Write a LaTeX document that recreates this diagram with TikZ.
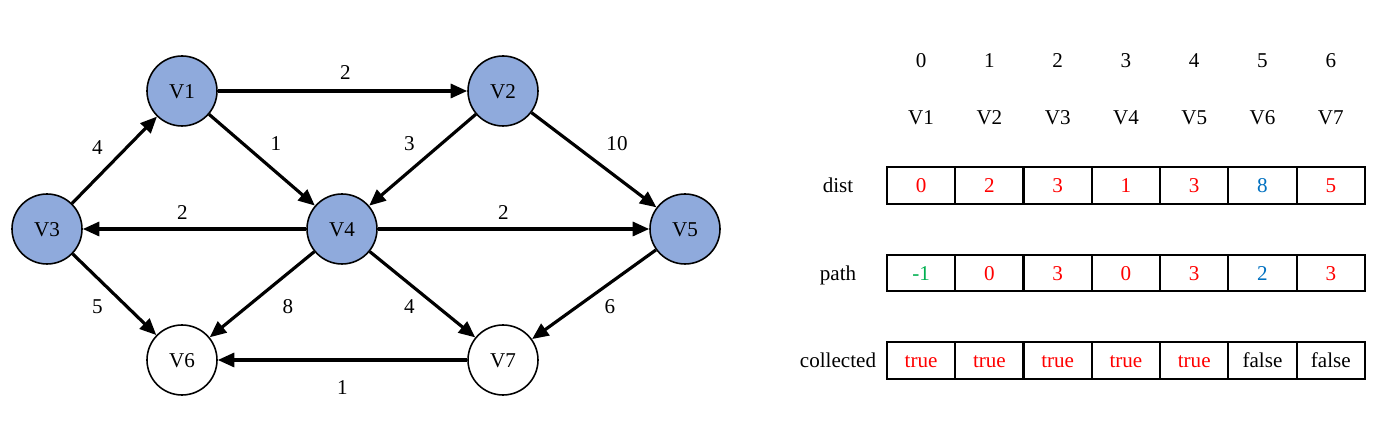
\documentclass[tikz,border=0pt]{standalone}
\usepackage{fontspec}
\setmainfont{Liberation Serif}
\usepackage{xcolor}
\usepackage{tikz}
\usetikzlibrary{arrows.meta}
\definecolor{vfill}{RGB}{143,170,220}
\definecolor{pgreen}{RGB}{0,176,80}
\definecolor{pblue}{RGB}{0,112,192}

\begin{document}
\begin{tikzpicture}[x=0.2mm, y=-0.2mm, font=\fontsize{12}{14}\selectfont,
    vtx/.style={circle, draw, line width=0.9pt, minimum size=14mm, inner sep=0pt, text height=8pt, text depth=0pt},
    seen/.style={vtx, fill=vfill},
    edge/.style={line width=1.8pt, -{Triangle[length=3.3mm, width=2.8mm]}},
    lbl/.style={inner sep=0pt, text height=8pt, text depth=0pt},
    cell/.style={draw, line width=1.2pt, minimum width=13.66mm, minimum height=7.3mm, inner sep=0pt, text height=8pt, text depth=0pt}]
      \useasboundingbox (0,0) rectangle (1383,427);
      % graph
      \node[seen] (v1) at (182,91) {V1};
      \node[seen] (v2) at (503,91) {V2};
      \node[seen] (v3) at (47,229) {V3};
      \node[seen] (v4) at (342,229) {V4};
      \node[seen] (v5) at (685,229) {V5};
      \node[vtx] (v6) at (182,360) {V6};
      \node[vtx] (v7) at (503,360) {V7};
      \draw[edge] (v1) -- node[lbl, shift={(3,-19)}] {2} (v2);
      \draw[edge] (v1) -- node[lbl, shift={(14,-17)}] {1} (v4);
      \draw[edge] (v2) -- node[lbl, shift={(-13,-17)}] {3} (v4);
      \draw[edge] (v2) -- node[lbl, shift={(23,-17)}] {10} (v5);
      \draw[edge] (v3) -- node[lbl, shift={(-17,-13)}] {4} (v1);
      \draw[edge] (v4) -- node[lbl, shift={(-12,-17)}] {2} (v3);
      \draw[edge] (v4) -- node[lbl, shift={(-10,-17)}] {2} (v5);
      \draw[edge] (v3) -- node[lbl, shift={(-17,12)}] {5} (v6);
      \draw[edge] (v4) -- node[lbl, shift={(26,12)}] {8} (v6);
      \draw[edge] (v4) -- node[lbl, shift={(-13,12)}] {4} (v7);
      \draw[edge] (v5) -- node[lbl, shift={(16,12)}] {6} (v7);
      \draw[edge] (v7) -- node[lbl, shift={(0,27)}] {1} (v6);
      % table
      \node[lbl] (dist) at (838,185.5) {dist};
      \node[lbl] (path) at (838,273) {path};
      \node[lbl] (coll) at (838,360.5) {collected};
      \foreach \i/\n/\d/\dc/\p/\pc/\c/\cc in {0/V1/0/red/-1/pgreen/true/red, 1/V2/2/red/0/red/true/red,
          2/V3/3/red/3/red/true/red, 3/V4/1/red/0/red/true/red, 4/V5/3/red/3/red/true/red,
          5/V6/8/pblue/2/pblue/false/black, 6/V7/5/red/3/red/false/black}{
        \node[lbl] (i\i) at (921.1+68.28*\i,60) {\i};
        \node[lbl] (n\i) at (921.1+68.28*\i,117.5) {\n};
        \node[cell, text=\dc] (d\i) at (921.1+68.28*\i,185.5) {\d};
        \node[cell, text=\pc] (p\i) at (921.1+68.28*\i,273) {\p};
        \node[cell, text=\cc] (c\i) at (921.1+68.28*\i,360.5) {\c};
      }
\end{tikzpicture}
\end{document}
